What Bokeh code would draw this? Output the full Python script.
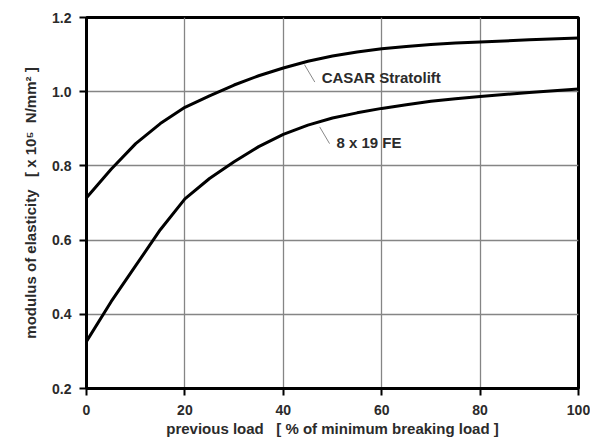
from bokeh.plotting import figure
from bokeh.models import FixedTicker, Range1d, Label, Segment, ColumnDataSource
from bokeh.embed import file_html
from bokeh.resources import INLINE

load = [0, 5, 10, 15, 20, 25, 30, 35, 40, 45, 50, 55, 60, 65, 70, 75, 80, 90, 100]
casar = [0.714, 0.791, 0.860, 0.914, 0.958, 0.989, 1.018, 1.043, 1.064, 1.082, 1.096, 1.107, 1.116, 1.122, 1.127, 1.131, 1.134, 1.140, 1.145]
fe819 = [0.327, 0.434, 0.531, 0.628, 0.711, 0.766, 0.811, 0.852, 0.885, 0.910, 0.929, 0.943, 0.955, 0.965, 0.974, 0.981, 0.987, 0.998, 1.007]

x_ticks = [0, 20, 40, 60, 80, 100]
y_ticks = [0.2, 0.4, 0.6, 0.8, 1.0, 1.2]
y_tick_labels = {0.2: "0.2", 0.4: "0.4", 0.6: "0.6", 0.8: "0.8", 1.0: "1.0", 1.2: "1.2"}

labels = ["CASAR Stratolift", "8 x 19 FE"]
label_x = [47.8, 50.8]
label_y = [1.038, 0.862]
leader_x0 = [44.3, 47.4]
leader_y0 = [1.073, 0.905]
leader_x1 = [46.4, 49.4]
leader_y1 = [1.026, 0.860]

FONT = "Liberation Sans"
TXT = "#2b2b2b"
NB = "\u00a0"

p = figure(width=590, height=441, output_backend="svg", toolbar_location=None,
           x_range=Range1d(0, 100), y_range=Range1d(0.2, 1.2),
           min_border_left=86, min_border_right=12, min_border_top=17, min_border_bottom=53)

p.outline_line_color = "black"
p.outline_line_width = 3
p.background_fill_color = "white"
p.border_fill_color = "white"

for ax in (p.xaxis[0], p.yaxis[0]):
    ax.axis_line_color = "black"
    ax.axis_line_width = 3
    ax.major_tick_line_color = "black"
    ax.major_tick_line_width = 2
    ax.major_tick_out = 7
    ax.major_tick_in = 0
    ax.minor_tick_line_color = None
    ax.major_label_text_font = FONT
    ax.major_label_text_font_style = "bold"
    ax.major_label_text_font_size = "14px"
    ax.major_label_text_color = TXT
    ax.axis_label_text_font = FONT
    ax.axis_label_text_font_style = "bold"
    ax.axis_label_text_font_size = "15px"
    ax.axis_label_text_color = TXT

p.xaxis.ticker = FixedTicker(ticks=x_ticks)
p.yaxis.ticker = FixedTicker(ticks=y_ticks)
p.yaxis.major_label_overrides = y_tick_labels
p.xaxis.major_label_standoff = 9
p.yaxis.major_label_standoff = 8
p.xaxis.axis_label = "previous load" + NB * 3 + "[ % of minimum breaking load ]"
p.yaxis.axis_label = "modulus of elasticity" + NB * 3 + "[ x 10\u2075" + NB * 2 + "N/mm\u00b2 ]"
p.xaxis.axis_label_standoff = 2
p.yaxis.axis_label_standoff = 10

p.xgrid.ticker = FixedTicker(ticks=x_ticks)
p.ygrid.ticker = FixedTicker(ticks=y_ticks)
p.grid.grid_line_color = "#858585"
p.grid.grid_line_width = 1.3

p.line(load, casar, line_color="black", line_width=3, line_join="round")
p.line(load, fe819, line_color="black", line_width=3, line_join="round")

src = ColumnDataSource(dict(x0=leader_x0, y0=leader_y0, x1=leader_x1, y1=leader_y1))
p.add_glyph(src, Segment(x0="x0", y0="y0", x1="x1", y1="y1", line_color="#888888", line_width=1))

for t, lx, ly in zip(labels, label_x, label_y):
    p.add_layout(Label(x=lx, y=ly, text=t, text_font=FONT, text_font_style="bold",
                       text_font_size="15px", text_color=TXT, text_baseline="middle",
                       text_align="left"))

open("out.html", "w").write(file_html(p, INLINE))
